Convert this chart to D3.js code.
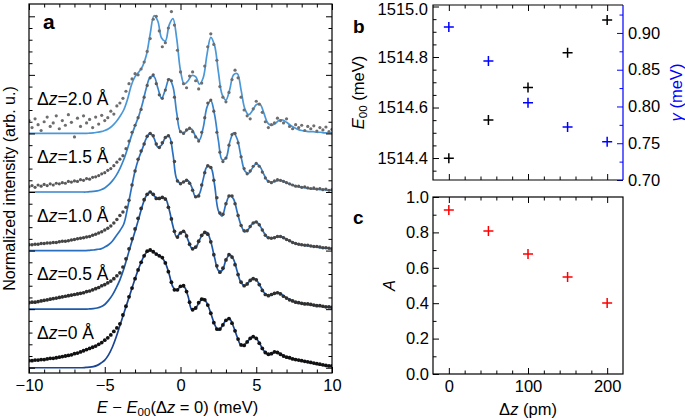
<!DOCTYPE html>
<html><head><meta charset="utf-8">
<script src="https://cdn.jsdelivr.net/npm/d3@7/dist/d3.min.js"></script>
<style>body{margin:0;background:#fff}svg{display:block}text{font-family:"Liberation Sans",Arial,sans-serif;fill:#000}</style>
</head><body><svg id="chart" width="685" height="419"></svg>
<script>
// ---------- DATA ----------
// energy grids (meV) for the fitted curves and the measured points
const fitEnergy = d3.range(81).map(i => -10 + i * 0.25);
const dataEnergy = d3.range(101).map(i => -10 + i * 0.2);
const spectrumLabels = ["0", "0.5", "1.0", "1.5", "2.0"];
const spectrumOffsets = [0, 1, 2, 3, 4];

const fit00 = [0,0,0,0,0,0,0,0,0,0,0,0,0,0,0,
 0.005,0.01,0.02,0.04,0.08,0.13,0.22,0.35,0.52,0.72,0.92,1.12,1.32,1.52,1.70,1.86,1.97,2.01,1.97,1.93,1.89,1.79,1.60,1.38,1.32,1.39,
 1.38,1.22,0.99,1.02,1.12,1.18,1.10,0.93,0.74,0.64,0.71,0.81,0.83,0.70,0.52,0.38,0.40,0.47,0.53,0.50,
 0.40,0.29,0.23,0.23,0.27,0.25,0.21,0.18,0.16,0.15,0.13,0.12,0.11,0.09,0.08,0.06,0.05,0.04,0.03,0.02];
const fit05 = [0,0,0,0,0,0,0,0,0,0,0,0,0,0,0,0,
 0.005,0.01,0.02,0.04,0.08,0.15,0.24,0.36,0.50,0.68,0.90,1.12,1.33,1.55,1.78,1.94,2.00,1.94,1.88,1.90,1.89,1.70,1.42,1.23,1.31,
 1.32,1.18,1.04,1.05,1.18,1.29,1.31,1.15,0.88,0.66,0.66,0.84,0.93,0.85,0.64,0.45,0.40,0.46,0.52,0.50,
 0.40,0.29,0.23,0.24,0.27,0.28,0.24,0.19,0.16,0.13,0.11,0.10,0.09,0.08,0.07,0.06,0.05,0.04,0.03,0.03];
const fit10 = [0,0,0,0,0,0,0,0,0,0,0,0,0,0,0,0,
 0.005,0.01,0.02,0.03,0.06,0.10,0.16,0.25,0.34,0.45,0.72,1.05,1.36,1.58,1.75,1.92,2.00,1.92,1.77,1.80,1.93,1.95,1.65,1.22,1.15,
 1.18,1.19,1.08,0.91,0.97,1.22,1.43,1.42,1.12,0.68,0.59,0.80,0.94,0.88,0.65,0.43,0.32,0.37,0.46,0.49,
 0.42,0.31,0.22,0.21,0.23,0.24,0.23,0.19,0.16,0.13,0.11,0.10,0.09,0.08,0.07,0.06,0.05,0.04,0.04,0.03];
const fit15 = [0,0,0,0,0,0,0,0,0,0,0,0,0,0,0,0,
 0.005,0.01,0.02,0.04,0.07,0.12,0.19,0.28,0.40,0.55,0.74,0.95,1.13,1.30,1.52,1.78,1.96,1.97,1.78,1.60,1.75,1.93,1.80,1.35,1.03,
 1.02,1.07,1.07,0.95,0.89,1.10,1.45,1.56,1.32,0.88,0.55,0.58,0.85,1.01,0.90,0.60,0.36,0.32,0.41,0.48,
 0.43,0.30,0.19,0.17,0.18,0.20,0.19,0.16,0.13,0.11,0.09,0.08,0.07,0.06,0.05,0.05,0.04,0.04,0.03,0.03];
const fit20 = [0,0,0,0,0,0,0,0,0,0,0,0,0,0,0,0,
 0.005,0.01,0.02,0.03,0.05,0.08,0.13,0.20,0.29,0.40,0.58,0.82,0.97,1.05,1.15,1.34,1.70,2.01,1.92,1.63,1.58,1.85,1.96,1.62,1.07,
 0.84,0.90,0.99,0.97,0.84,0.95,1.35,1.64,1.50,1.05,0.66,0.57,0.75,1.00,1.02,0.74,0.42,0.32,0.39,0.49,
 0.50,0.35,0.18,0.14,0.17,0.22,0.23,0.19,0.14,0.10,0.07,0.05,0.04,0.03,0.03,0.02,0.02,0.01,0.01,0.01];

const data00 = [0.12,0.12,0.13,0.13,0.14,0.14,0.15,0.16,0.16,0.17,0.18,0.19,0.20,0.21,0.22,0.24,0.25,0.27,0.29,0.31,0.33,
 0.35,0.37,0.40,0.43,0.47,0.51,0.56,0.62,0.68,0.75,
 0.90,1.05,1.21,1.36,1.52,1.67,1.80,1.91,1.99,2.01,
 1.98,1.94,1.91,1.88,1.79,1.64,1.46,1.33,1.33,1.39,
 1.40,1.30,1.12,0.99,1.02,1.11,1.17,1.16,1.07,0.93,
 0.77,0.66,0.66,0.73,0.81,0.84,0.76,0.63,0.49,0.39,
 0.38,0.44,0.50,0.53,0.50,0.42,0.33,0.26,0.23,0.24,
 0.27,0.26,0.23,0.20,0.18,0.17,0.15,0.14,0.13,0.12,
 0.11,0.10,0.09,0.08,0.07,0.06,0.05,0.04,0.03,0.03];
const data05 = [0.11,0.12,0.12,0.13,0.14,0.15,0.16,0.17,0.18,0.19,0.20,0.21,0.22,0.23,0.24,0.25,0.26,0.27,0.28,0.30,0.31,
 0.33,0.35,0.37,0.40,0.42,0.45,0.48,0.52,0.57,0.62,
 0.72,0.86,1.03,1.20,1.37,1.55,1.72,1.87,1.96,2.00,
 1.96,1.89,1.89,1.91,1.88,1.74,1.54,1.33,1.23,1.30,
 1.33,1.25,1.11,1.03,1.06,1.16,1.26,1.31,1.28,1.15,
 0.93,0.74,0.63,0.70,0.84,0.93,0.89,0.76,0.59,0.46,
 0.40,0.43,0.49,0.52,0.50,0.42,0.32,0.25,0.23,0.25,
 0.27,0.28,0.26,0.22,0.19,0.16,0.14,0.12,0.11,0.10,
 0.09,0.09,0.08,0.07,0.06,0.06,0.05,0.04,0.04,0.03];
const data10 = [0.10,0.10,0.11,0.11,0.12,0.12,0.13,0.13,0.14,0.14,0.15,0.16,0.16,0.17,0.18,0.19,0.20,0.21,0.22,0.23,0.24,
 0.26,0.28,0.30,0.32,0.35,0.38,0.42,0.47,0.53,0.60,
 0.66,0.74,0.86,1.12,1.36,1.56,1.70,1.82,1.95,2.00,
 1.96,1.82,1.76,1.84,1.93,1.96,1.84,1.52,1.19,1.14,
 1.17,1.20,1.15,1.03,0.92,0.93,1.12,1.33,1.45,1.42,
 1.20,0.90,0.64,0.62,0.80,0.93,0.93,0.80,0.60,0.43,
 0.34,0.34,0.41,0.47,0.49,0.44,0.35,0.26,0.22,0.21,
 0.22,0.24,0.24,0.22,0.19,0.17,0.14,0.12,0.11,0.10,
 0.09,0.09,0.08,0.07,0.07,0.06,0.05,0.05,0.04,0.03];
const data15 = [0.09,0.11,0.08,0.12,0.10,0.13,0.11,0.14,0.12,0.15,0.14,0.16,0.15,0.18,0.17,0.19,0.18,0.21,0.20,0.23,0.22,
 0.25,0.26,0.28,0.31,0.33,0.37,0.40,0.45,0.51,0.56,
 0.62,0.74,0.87,1.02,1.14,1.27,1.41,1.62,1.82,1.95,
 2.00,1.85,1.66,1.60,1.74,1.92,1.90,1.62,1.25,1.03,
 1.00,1.06,1.09,1.03,0.94,0.87,1.02,1.27,1.52,1.57,
 1.38,1.02,0.68,0.52,0.58,0.80,0.98,1.00,0.84,0.60,
 0.40,0.31,0.36,0.44,0.49,0.44,0.34,0.24,0.18,0.16,
 0.19,0.21,0.20,0.18,0.16,0.14,0.12,0.10,0.10,0.08,
 0.09,0.07,0.06,0.07,0.05,0.06,0.04,0.05,0.03,0.04];
const data20 = [0.22,0.10,0.25,0.15,0.05,0.20,0.28,0.12,0.18,0.30,0.08,0.22,0.14,0.32,0.19,-0.06,0.26,0.12,0.30,0.18,0.24,
 0.10,0.28,0.16,0.31,0.22,0.27,0.38,0.33,0.47,0.52,
 0.60,0.72,0.85,0.93,1.02,1.00,1.10,1.22,1.40,1.62,
 1.95,2.00,1.75,1.48,1.55,1.80,2.08,1.85,1.42,1.05,
 0.85,0.78,0.98,1.05,0.90,0.76,0.86,1.15,1.48,1.70,
 1.52,1.25,0.80,0.62,0.54,0.70,0.92,1.08,0.95,0.62,
 0.40,0.30,0.25,0.42,0.55,0.50,0.36,0.20,0.10,0.15,
 0.18,0.26,0.22,0.18,0.25,0.12,0.08,0.15,0.10,0.14,
 0.05,0.12,0.08,0.13,0.04,0.10,0.06,0.11,0.03,0.07];

const fitSeries = [fit00, fit05, fit10, fit15, fit20];
const dataSeries = [data00, data05, data10, data15, data20];

const dzPm = [0, 50, 100, 150, 200];
const e00Values = [1514.399, 1514.551, 1514.679, 1514.817, 1514.947];
const gammaValues = [0.908, 0.862, 0.805, 0.772, 0.752];
const ampValues = [0.927, 0.808, 0.678, 0.548, 0.401];

// ---------- STYLE ----------
const dotColors = ["#111111", "#2f2f2f", "#464646", "#5a5a5a", "#6e6e6e"];
const dotRadius = [1.9, 1.85, 1.75, 1.6, 1.6];
const fitColors = ["#1b4592", "#1f5aa8", "#2a6fbf", "#3884cc", "#4a98d8"];
const FS = 16.5;

const svg = d3.select("#chart");

function tickSet(g, scale, orient, values, len, color, labels, fmt, pad) {
  let ax;
  if (orient === "bottom") ax = d3.axisBottom(scale);
  else if (orient === "top") ax = d3.axisTop(scale);
  else if (orient === "left") ax = d3.axisLeft(scale);
  else ax = d3.axisRight(scale);
  ax.tickValues(values).tickSize(-len).tickPadding(pad || 6)
    .tickFormat(labels ? fmt : () => "");
  g.call(ax);
  g.select(".domain").remove();
  g.selectAll(".tick line").attr("stroke", color).attr("stroke-width", 1);
  g.selectAll(".tick text").attr("font-size", FS).attr("fill", color)
    .style("font-family", '"Liberation Sans", Arial, sans-serif');
  return g;
}
const minus = s => s.replace("-", "\u2212");

// ---------- PANEL A ----------
const A = {l: 29, r: 332, t: 4, b: 373};
const xa = d3.scaleLinear().domain([-10, 10]).range([A.l, A.r]);
const ya = d3.scaleLinear().domain([-0.09, 6.21]).range([A.b, A.t]);

const ga = svg.append("g");
const clip = svg.append("clipPath").attr("id", "clipA");
clip.append("rect").attr("x", A.l).attr("y", A.t).attr("width", A.r - A.l).attr("height", A.b - A.t);
const plotA = ga.append("g").attr("clip-path", "url(#clipA)");

spectrumOffsets.forEach((off, k) => {
  const line = d3.line().curve(d3.curveCatmullRom.alpha(0.5))
    .x((d, i) => xa(fitEnergy[i])).y(d => ya(d + off));
  plotA.append("path").datum(fitSeries[k]).attr("d", line)
    .attr("fill", "none").attr("stroke", fitColors[k]).attr("stroke-width", 1.7);
  plotA.append("g").selectAll("circle").data(dataSeries[k]).join("circle")
    .attr("cx", (d, i) => xa(dataEnergy[i])).attr("cy", d => ya(d + off))
    .attr("r", dotRadius[k]).attr("fill", dotColors[k]);
});

const xaMajor = [-10, -5, 0, 5, 10];
const xaMinor = d3.range(-9, 10).filter(v => v % 5 !== 0);
const yaMajor = [0, 1, 2, 3, 4, 5, 6];
const yaMinor = d3.range(1, 31).map(i => +(i * 0.2).toFixed(1)).filter(v => Math.abs(v - Math.round(v)) > 0.01);

tickSet(ga.append("g").attr("transform", `translate(0,${A.b})`), xa, "bottom", xaMajor, 6, "#000", true, d => minus(String(d)), 6);
tickSet(ga.append("g").attr("transform", `translate(0,${A.b})`), xa, "bottom", xaMinor, 3.5, "#000", false);
tickSet(ga.append("g").attr("transform", `translate(0,${A.t})`), xa, "top", xaMajor, 6, "#000", false);
tickSet(ga.append("g").attr("transform", `translate(0,${A.t})`), xa, "top", xaMinor, 3.5, "#000", false);
tickSet(ga.append("g").attr("transform", `translate(${A.l},0)`), ya, "left", yaMajor, 6, "#000", false);
tickSet(ga.append("g").attr("transform", `translate(${A.l},0)`), ya, "left", yaMinor, 3.5, "#000", false);
tickSet(ga.append("g").attr("transform", `translate(${A.r},0)`), ya, "right", yaMajor, 6, "#000", false);
tickSet(ga.append("g").attr("transform", `translate(${A.r},0)`), ya, "right", yaMinor, 3.5, "#000", false);
ga.append("rect").attr("x", A.l).attr("y", A.t).attr("width", A.r - A.l).attr("height", A.b - A.t)
  .attr("fill", "none").attr("stroke", "#000").attr("stroke-width", 1.2);

// spectrum labels
spectrumOffsets.forEach((off, k) => {
  const t = ga.append("text").attr("x", 37).attr("y", ya(off + 0.49)).attr("font-size", 17.5);
  t.append("tspan").text("\u0394");
  t.append("tspan").attr("font-style", "italic").text("z");
  t.append("tspan").text("=" + spectrumLabels[k] + " \u00C5");
});
ga.append("text").attr("x", 43).attr("y", 29).attr("font-size", 21).attr("font-weight", "bold").text("a");

// axis labels
const xl = ga.append("text").attr("x", (A.l + A.r) / 2 - 3).attr("y", 413).attr("text-anchor", "middle").attr("font-size", FS);
xl.append("tspan").attr("font-style", "italic").text("E");
xl.append("tspan").text(" \u2212 ");
xl.append("tspan").attr("font-style", "italic").text("E");
xl.append("tspan").attr("font-size", FS * 0.7).attr("dy", 3).text("00");
xl.append("tspan").attr("dy", -3).text("(\u0394");
xl.append("tspan").attr("font-style", "italic").text("z");
xl.append("tspan").text(" = 0) (meV)");

ga.append("text").attr("transform", `translate(15,${(A.t + A.b) / 2}) rotate(-90)`)
  .attr("text-anchor", "middle").attr("font-size", 16).text("Normalized intensity (arb. u.)");

// ---------- PANEL B ----------
const B = {l: 433, r: 623, t: 5, b: 180};
const xb = d3.scaleLinear().domain([-20, 220]).range([B.l, B.r]);
const yb = d3.scaleLinear().domain([1514.313, 1515.006]).range([B.b, B.t]);
const yg = d3.scaleLinear().domain([0.70, 0.938]).range([B.b, B.t]);
const gb = svg.append("g");

const xbMajor = [0, 100, 200];
const xbMinor = [20, 40, 60, 80, 120, 140, 160, 180];
const ybMajor = [1514.4, 1514.6, 1514.8, 1515.0];
const ybMinor = [1514.35, 1514.45, 1514.5, 1514.55, 1514.65, 1514.7, 1514.75, 1514.85, 1514.9, 1514.95];
const ygMajor = [0.70, 0.75, 0.80, 0.85, 0.90];
const ygMinor = [0.725, 0.775, 0.825, 0.875, 0.925];

tickSet(gb.append("g").attr("transform", `translate(0,${B.b})`), xb, "bottom", xbMajor, 6, "#000", false);
tickSet(gb.append("g").attr("transform", `translate(0,${B.b})`), xb, "bottom", xbMinor, 3.5, "#000", false);
tickSet(gb.append("g").attr("transform", `translate(0,${B.t})`), xb, "top", xbMajor, 6, "#000", false);
tickSet(gb.append("g").attr("transform", `translate(0,${B.t})`), xb, "top", xbMinor, 3.5, "#000", false);
const ybAxis = tickSet(gb.append("g").attr("transform", `translate(${B.l},0)`), yb, "left", ybMajor, 6, "#000", true, d => d.toFixed(1), 5);
// keep the top label inside the picture
ybAxis.selectAll(".tick text").filter(d => d === 1515.0).attr("dy", "0.5em");
tickSet(gb.append("g").attr("transform", `translate(${B.l},0)`), yb, "left", ybMinor, 3.5, "#000", false);
tickSet(gb.append("g").attr("transform", `translate(${B.r},0)`), yg, "right", ygMajor, 6, "#0000ff", true, d => d.toFixed(2), 5);
tickSet(gb.append("g").attr("transform", `translate(${B.r},0)`), yg, "right", ygMinor, 3.5, "#0000ff", false);
gb.append("path").attr("d", `M${B.r},${B.t}H${B.l}V${B.b}H${B.r}`).attr("fill", "none").attr("stroke", "#000").attr("stroke-width", 1.2);
gb.append("line").attr("x1", B.r).attr("x2", B.r).attr("y1", B.t).attr("y2", B.b).attr("stroke", "#0000ff").attr("stroke-width", 1.2);

function crosses(g, xs, ys, xsc, ysc, color) {
  const s = 5;
  g.append("g").selectAll("path").data(xs).join("path")
    .attr("d", (d, i) => { const cx = xsc(d), cy = ysc(ys[i]); return `M${cx - s},${cy}H${cx + s}M${cx},${cy - s}V${cy + s}`; })
    .attr("stroke", color).attr("stroke-width", 1.5).attr("fill", "none");
}
crosses(gb, dzPm, e00Values, xb, yb, "#000");
crosses(gb, dzPm, gammaValues, xb, yg, "#0000ff");

gb.append("text").attr("x", 353).attr("y", 33).attr("font-size", 19).attr("font-weight", "bold").text("b");
const lb = gb.append("text").attr("transform", `translate(364,${(B.t + B.b) / 2}) rotate(-90)`).attr("text-anchor", "middle").attr("font-size", FS);
lb.append("tspan").attr("font-style", "italic").text("E");
lb.append("tspan").attr("font-size", FS * 0.7).attr("dy", 3).text("00");
lb.append("tspan").attr("dy", -3).text(" (meV)");
const lg = gb.append("text").attr("transform", `translate(682,${(B.t + B.b) / 2}) rotate(-90)`).attr("text-anchor", "middle").attr("font-size", FS).style("fill", "#0000ff");
lg.append("tspan").attr("font-style", "italic").text("\u03B3");
lg.append("tspan").text(" (meV)");

// ---------- PANEL C ----------
const C = {l: 433, r: 623, t: 197, b: 374};
const yc = d3.scaleLinear().domain([0, 1.0]).range([C.b, C.t]);
const gc = svg.append("g");
const ycMajor = [0, 0.2, 0.4, 0.6, 0.8, 1.0];
const ycMinor = [0.1, 0.3, 0.5, 0.7, 0.9];
tickSet(gc.append("g").attr("transform", `translate(0,${C.b})`), xb, "bottom", xbMajor, 6, "#000", true, d => String(d), 6);
tickSet(gc.append("g").attr("transform", `translate(0,${C.b})`), xb, "bottom", xbMinor, 3.5, "#000", false);
tickSet(gc.append("g").attr("transform", `translate(0,${C.t})`), xb, "top", xbMajor, 6, "#000", false);
tickSet(gc.append("g").attr("transform", `translate(0,${C.t})`), xb, "top", xbMinor, 3.5, "#000", false);
tickSet(gc.append("g").attr("transform", `translate(${C.l},0)`), yc, "left", ycMajor, 6, "#000", true, d => d.toFixed(1), 4);
tickSet(gc.append("g").attr("transform", `translate(${C.l},0)`), yc, "left", ycMinor, 3.5, "#000", false);
gc.append("rect").attr("x", C.l).attr("y", C.t).attr("width", C.r - C.l).attr("height", C.b - C.t)
  .attr("fill", "none").attr("stroke", "#000").attr("stroke-width", 1.2);
crosses(gc, dzPm, ampValues, xb, yc, "#ff0000");

gc.append("text").attr("x", 353).attr("y", 224).attr("font-size", 19).attr("font-weight", "bold").text("c");
gc.append("text").attr("transform", `translate(395,${(C.t + C.b) / 2}) rotate(-90)`).attr("text-anchor", "middle")
  .attr("font-size", FS).attr("font-style", "italic").text("A");
const lc = gc.append("text").attr("x", (C.l + C.r) / 2).attr("y", 415).attr("text-anchor", "middle").attr("font-size", FS);
lc.append("tspan").text("\u0394");
lc.append("tspan").attr("font-style", "italic").text("z");
lc.append("tspan").text(" (pm)");
</script></body></html>
